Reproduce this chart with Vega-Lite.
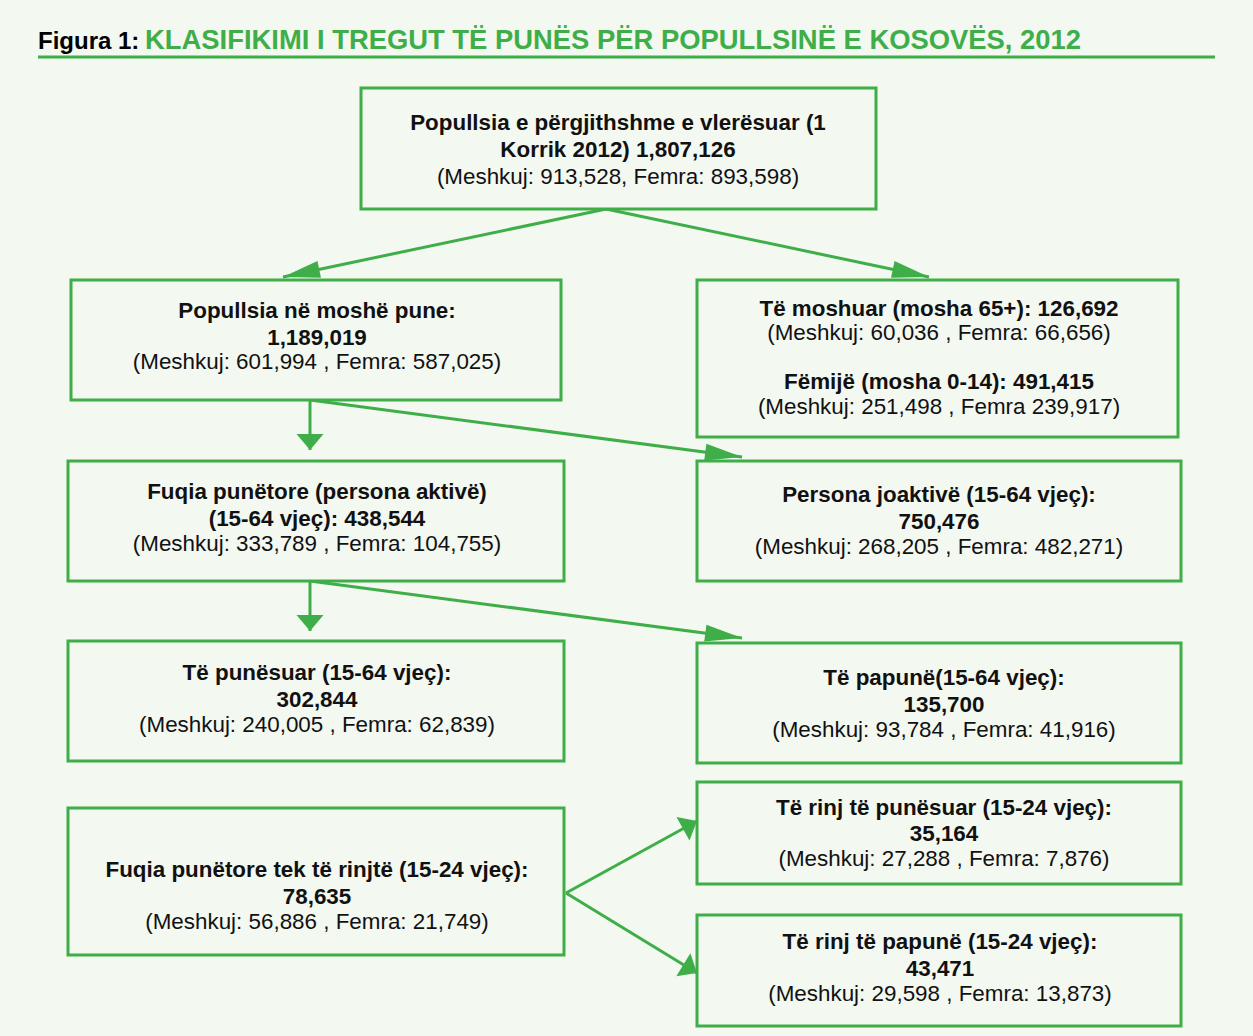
{
  "$schema": "https://vega.github.io/schema/vega-lite/v6.json",
  "width": 1253,
  "height": 1036,
  "autosize": {"type": "fit", "contains": "padding"},
  "padding": 0,
  "background": "#f3f8f1",
  "config": {"view": {"stroke": null}, "font": "Liberation Sans"},
  "datasets": {
    "heading": [
      {"x": 38, "y": 49, "part": "label", "text": "Figura 1:"},
      {"x": 145, "y": 49, "part": "heading", "text": "KLASIFIKIMI I TREGUT TË PUNËS PËR POPULLSINË E KOSOVËS, 2012"}
    ],
    "underline": [
      {"x1": 38, "x2": 1215, "y": 57}
    ],
    "boxes": [
      {"id": "total", "x1": 361, "x2": 876, "y1": 88, "y2": 209},
      {"id": "working", "x1": 71, "x2": 561, "y1": 280, "y2": 400},
      {"id": "elderly", "x1": 697, "x2": 1178, "y1": 280, "y2": 437},
      {"id": "labour", "x1": 68, "x2": 564, "y1": 461, "y2": 581},
      {"id": "inactive", "x1": 697, "x2": 1181, "y1": 461, "y2": 581},
      {"id": "employed", "x1": 68, "x2": 564, "y1": 641, "y2": 761},
      {"id": "unemployed", "x1": 697, "x2": 1181, "y1": 643, "y2": 763},
      {"id": "youth", "x1": 68, "x2": 564, "y1": 808, "y2": 955},
      {"id": "youthEmp", "x1": 697, "x2": 1181, "y1": 782, "y2": 884},
      {"id": "youthUnemp", "x1": 697, "x2": 1181, "y1": 915, "y2": 1026}
    ],
    "arrows": [
      {"from": "total", "to": "working", "x1": 606, "y1": 209, "x2": 283, "y2": 277, "angle": 258.1, "kind": "long"},
      {"from": "total", "to": "elderly", "x1": 606, "y1": 209, "x2": 929, "y2": 277, "angle": 101.9, "kind": "long"},
      {"from": "working", "to": "labour", "x1": 310, "y1": 400, "x2": 310, "y2": 450, "angle": 180, "kind": "short"},
      {"from": "working", "to": "inactive", "x1": 310, "y1": 400, "x2": 742, "y2": 457, "angle": 97.5, "kind": "long"},
      {"from": "labour", "to": "employed", "x1": 310, "y1": 581, "x2": 310, "y2": 631, "angle": 180, "kind": "short"},
      {"from": "labour", "to": "unemployed", "x1": 310, "y1": 581, "x2": 742, "y2": 638, "angle": 97.5, "kind": "long"},
      {"from": "youth", "to": "youthEmp", "x1": 566, "y1": 893, "x2": 697, "y2": 821, "angle": 61.2, "kind": "short"},
      {"from": "youth", "to": "youthUnemp", "x1": 566, "y1": 893, "x2": 697, "y2": 973, "angle": 121.4, "kind": "short"}
    ],
    "labels": [
      {"x": 618, "y": 130, "bold": true, "text": "Popullsia e përgjithshme e vlerësuar (1"},
      {"x": 618, "y": 157, "bold": true, "text": "Korrik 2012) 1,807,126"},
      {"x": 618, "y": 184, "bold": false, "text": "(Meshkuj: 913,528, Femra: 893,598)"},
      {"x": 317, "y": 318, "bold": true, "text": "Popullsia në moshë pune:"},
      {"x": 317, "y": 345, "bold": true, "text": "1,189,019"},
      {"x": 317, "y": 369, "bold": false, "text": "(Meshkuj: 601,994 , Femra: 587,025)"},
      {"x": 939, "y": 316, "bold": true, "text": "Të moshuar (mosha 65+): 126,692"},
      {"x": 939, "y": 340, "bold": false, "text": "(Meshkuj: 60,036 , Femra: 66,656)"},
      {"x": 939, "y": 389, "bold": true, "text": "Fëmijë (mosha 0-14): 491,415"},
      {"x": 939, "y": 414, "bold": false, "text": "(Meshkuj: 251,498 , Femra 239,917)"},
      {"x": 317, "y": 499, "bold": true, "text": "Fuqia punëtore (persona aktivë)"},
      {"x": 317, "y": 526, "bold": true, "text": "(15-64 vjeç): 438,544"},
      {"x": 317, "y": 551, "bold": false, "text": "(Meshkuj: 333,789 , Femra: 104,755)"},
      {"x": 939, "y": 502, "bold": true, "text": "Persona joaktivë (15-64 vjeç):"},
      {"x": 939, "y": 529, "bold": true, "text": "750,476"},
      {"x": 939, "y": 554, "bold": false, "text": "(Meshkuj: 268,205 , Femra: 482,271)"},
      {"x": 317, "y": 680, "bold": true, "text": "Të punësuar (15-64 vjeç):"},
      {"x": 317, "y": 707, "bold": true, "text": "302,844"},
      {"x": 317, "y": 732, "bold": false, "text": "(Meshkuj: 240,005 , Femra: 62,839)"},
      {"x": 944, "y": 685, "bold": true, "text": "Të papunë(15-64 vjeç):"},
      {"x": 944, "y": 712, "bold": true, "text": "135,700"},
      {"x": 944, "y": 737, "bold": false, "text": "(Meshkuj: 93,784 , Femra: 41,916)"},
      {"x": 317, "y": 877, "bold": true, "text": "Fuqia punëtore tek të rinjtë (15-24 vjeç):"},
      {"x": 317, "y": 904, "bold": true, "text": "78,635"},
      {"x": 317, "y": 929, "bold": false, "text": "(Meshkuj: 56,886 , Femra: 21,749)"},
      {"x": 944, "y": 815, "bold": true, "text": "Të rinj të punësuar (15-24 vjeç):"},
      {"x": 944, "y": 841, "bold": true, "text": "35,164"},
      {"x": 944, "y": 866, "bold": false, "text": "(Meshkuj: 27,288 , Femra: 7,876)"},
      {"x": 940, "y": 949, "bold": true, "text": "Të rinj të papunë (15-24 vjeç):"},
      {"x": 940, "y": 976, "bold": true, "text": "43,471"},
      {"x": 940, "y": 1001, "bold": false, "text": "(Meshkuj: 29,598 , Femra: 13,873)"}
    ]
  },
  "layer": [
    {
      "data": {"name": "underline"},
      "mark": {"type": "rule", "color": "#3fae49", "strokeWidth": 3},
      "encoding": {
        "x": {"field": "x1", "type": "quantitative", "scale": {"domain": [0, 1253], "nice": false, "zero": false}, "axis": null},
        "x2": {"field": "x2"},
        "y": {"field": "y", "type": "quantitative", "scale": {"domain": [0, 1036], "reverse": true, "nice": false, "zero": false}, "axis": null}
      }
    },
    {
      "data": {"name": "heading"},
      "transform": [{"filter": "datum.part === 'label'"}],
      "mark": {"type": "text", "align": "left", "baseline": "alphabetic", "fontSize": 24, "fontWeight": "bold", "color": "#000000"},
      "encoding": {
        "x": {"field": "x", "type": "quantitative", "scale": {"domain": [0, 1253], "nice": false, "zero": false}, "axis": null},
        "y": {"field": "y", "type": "quantitative", "scale": {"domain": [0, 1036], "reverse": true, "nice": false, "zero": false}, "axis": null},
        "text": {"field": "text"}
      }
    },
    {
      "data": {"name": "heading"},
      "transform": [{"filter": "datum.part === 'heading'"}],
      "mark": {"type": "text", "align": "left", "baseline": "alphabetic", "fontSize": 27.4, "fontWeight": "bold", "color": "#3fae49"},
      "encoding": {
        "x": {"field": "x", "type": "quantitative", "scale": {"domain": [0, 1253], "nice": false, "zero": false}, "axis": null},
        "y": {"field": "y", "type": "quantitative", "scale": {"domain": [0, 1036], "reverse": true, "nice": false, "zero": false}, "axis": null},
        "text": {"field": "text"}
      }
    },
    {
      "data": {"name": "arrows"},
      "mark": {"type": "rule", "color": "#3fae49", "strokeWidth": 3},
      "encoding": {
        "x": {"field": "x1", "type": "quantitative", "scale": {"domain": [0, 1253], "nice": false, "zero": false}, "axis": null},
        "y": {"field": "y1", "type": "quantitative", "scale": {"domain": [0, 1036], "reverse": true, "nice": false, "zero": false}, "axis": null},
        "x2": {"field": "x2"},
        "y2": {"field": "y2"}
      }
    },
    {
      "data": {"name": "arrows"},
      "mark": {"type": "point", "filled": true, "opacity": 1, "size": 400, "strokeWidth": 0, "color": "#3fae49"},
      "encoding": {
        "x": {"field": "x2", "type": "quantitative", "scale": {"domain": [0, 1253], "nice": false, "zero": false}, "axis": null},
        "y": {"field": "y2", "type": "quantitative", "scale": {"domain": [0, 1036], "reverse": true, "nice": false, "zero": false}, "axis": null},
        "angle": {"field": "angle", "type": "quantitative", "scale": null},
        "shape": {"field": "kind", "type": "nominal", "scale": {"domain": ["long", "short"], "range": ["M0,0L0.85,3.7L-0.85,3.7Z", "M0,0L1.35,1.6L-1.35,1.6Z"]}, "legend": null}
      }
    },
    {
      "data": {"name": "boxes"},
      "mark": {"type": "rect", "stroke": "#3fae49", "strokeWidth": 3, "fill": "#f3f8f1"},
      "encoding": {
        "x": {"field": "x1", "type": "quantitative", "scale": {"domain": [0, 1253], "nice": false, "zero": false}, "axis": null},
        "x2": {"field": "x2"},
        "y": {"field": "y1", "type": "quantitative", "scale": {"domain": [0, 1036], "reverse": true, "nice": false, "zero": false}, "axis": null},
        "y2": {"field": "y2"}
      }
    },
    {
      "data": {"name": "labels"},
      "transform": [{"filter": "datum.bold"}],
      "mark": {"type": "text", "align": "center", "baseline": "alphabetic", "fontSize": 22.4, "fontWeight": "bold", "color": "#111111"},
      "encoding": {
        "x": {"field": "x", "type": "quantitative", "scale": {"domain": [0, 1253], "nice": false, "zero": false}, "axis": null},
        "y": {"field": "y", "type": "quantitative", "scale": {"domain": [0, 1036], "reverse": true, "nice": false, "zero": false}, "axis": null},
        "text": {"field": "text"}
      }
    },
    {
      "data": {"name": "labels"},
      "transform": [{"filter": "!datum.bold"}],
      "mark": {"type": "text", "align": "center", "baseline": "alphabetic", "fontSize": 22.4, "color": "#111111"},
      "encoding": {
        "x": {"field": "x", "type": "quantitative", "scale": {"domain": [0, 1253], "nice": false, "zero": false}, "axis": null},
        "y": {"field": "y", "type": "quantitative", "scale": {"domain": [0, 1036], "reverse": true, "nice": false, "zero": false}, "axis": null},
        "text": {"field": "text"}
      }
    }
  ]
}
